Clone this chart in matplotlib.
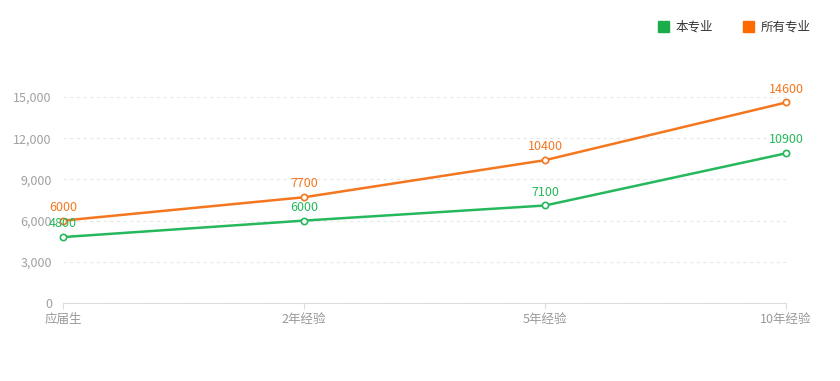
import matplotlib.pyplot as plt
from matplotlib.ticker import FuncFormatter
from matplotlib.patches import Patch

plt.rcParams['font.family'] = ['Noto Sans CJK SC', 'DejaVu Sans']

categories = ['应届生', '2年经验', '5年经验', '10年经验']
major = [4800, 6000, 7100, 10900]
overall = [6000, 7700, 10400, 14600]
yticks = [0, 3000, 6000, 9000, 12000, 15000]

green = '#25b85c'
orange = '#f4771f'

fig = plt.figure(figsize=(8.4, 3.81), dpi=100)
ax = fig.add_axes([0.075, 0.2047, 0.8607, 0.5407])

x = range(len(categories))
for vals, col, z in [(major, green, 3), (overall, orange, 4)]:
    ax.plot(x, vals, color=col, lw=1.8, marker='o', ms=4.5,
            markerfacecolor='white', markeredgecolor=col, markeredgewidth=1.2,
            zorder=z, clip_on=False)
    for i, v in enumerate(vals):
        ax.annotate(str(v), (i, v), xytext=(0, 5), textcoords='offset points',
                    ha='center', va='bottom', color=col, fontsize=9, zorder=5)

ax.set_xlim(0, len(categories) - 1)
ax.set_ylim(0, 15000)
ax.set_xticks(list(x))
ax.set_xticklabels(categories)
ax.set_yticks(yticks)
ax.yaxis.set_major_formatter(FuncFormatter(lambda v, p: f'{int(v):,}'))
ax.grid(axis='y', color='#e8e8e8', linestyle=(0, (3, 3)), lw=0.8)
ax.set_axisbelow(True)
for s in ['top', 'right', 'left']:
    ax.spines[s].set_visible(False)
ax.spines['bottom'].set_color('#dddddd')
ax.tick_params(axis='y', length=0, colors='#a0a0a0', labelsize=9, pad=8)
ax.tick_params(axis='x', length=4, color='#dddddd', colors='#999999',
               labelsize=9, pad=3)

handles = [Patch(color='#1aad4b', label='本专业'),
           Patch(color='#ff6a00', label='所有专业')]
fig.legend(handles=handles, loc='upper right', bbox_to_anchor=(0.978, 0.975),
           ncol=2, frameon=False, fontsize=9, handlelength=0.9,
           handleheight=0.9, handletextpad=0.5, columnspacing=2.4,
           labelcolor='#333333')

fig.savefig('out.png', dpi=100)
